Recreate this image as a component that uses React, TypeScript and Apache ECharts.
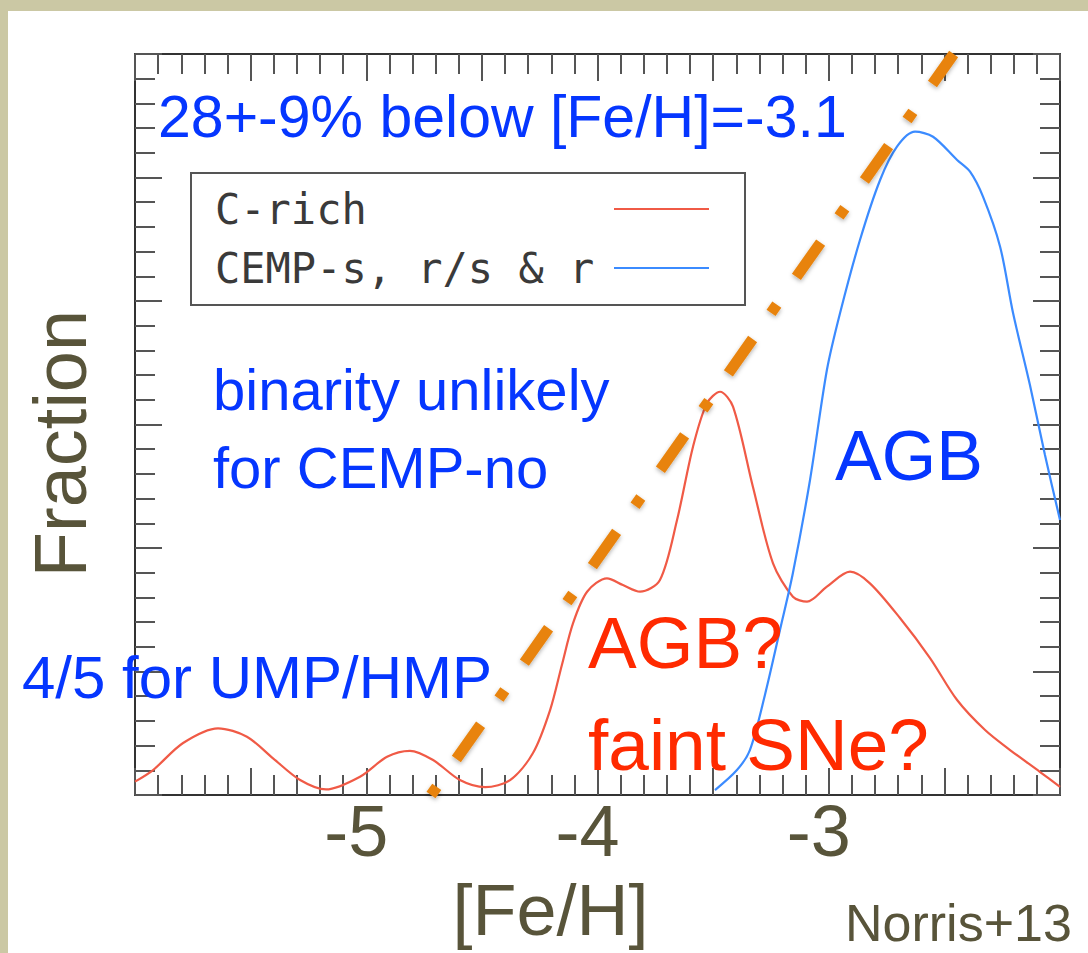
import React, { useEffect, useRef } from "react";
import * as echarts from "echarts";

// ---- data ----
const xTickLabels = [-5, -4, -3];

const cRichX = [
  -6.0, -5.922, -5.792, -5.641, -5.516, -5.403, -5.286, -5.174, -5.027, -4.91,
  -4.811, -4.711, -4.595, -4.486, -4.378, -4.279, -4.205, -4.154, -4.106, -4.045,
  -3.959, -3.89, -3.816, -3.73, -3.656, -3.587, -3.527, -3.47, -3.414, -3.328,
  -3.241, -3.155, -3.094, -3.008, -2.908, -2.822, -2.692, -2.562, -2.445, -2.324,
  -2.216, -2.086, -2.0,
];
const cRichY = [
  0.108, 0.202, 0.421, 0.54, 0.472, 0.297, 0.121, 0.045, 0.148, 0.31,
  0.358, 0.283, 0.121, 0.063, 0.121, 0.34, 0.688, 1.053, 1.39, 1.646,
  1.754, 1.7, 1.646, 1.741, 2.227, 2.82, 3.171, 3.265, 3.144, 2.496,
  1.876, 1.606, 1.565, 1.687, 1.808, 1.714, 1.433, 1.109, 0.769, 0.526,
  0.364, 0.186, 0.065,
];

const cempX = [
  -3.492, -3.397, -3.341, -3.276, -3.211, -3.155, -3.081, -3.008, -2.951, -2.865,
  -2.778, -2.705, -2.627, -2.549, -2.445, -2.389, -2.333, -2.259, -2.203, -2.13,
  -2.065, -2.0,
];
const cempY = [
  0.04, 0.202, 0.364, 0.81, 1.336, 1.798, 2.551, 3.441, 3.903, 4.494,
  4.98, 5.25, 5.371, 5.33, 5.142, 5.047, 4.845, 4.44, 3.903, 3.32,
  2.753, 2.227,
];

const divideX = [-4.72, -2.46];
const divideY = [0, 6];

const seriesNames = ["C-rich", "CEMP-s, r/s & r"];

const OLIVE = "#58543a";
const BLUE = "#0536ff";
const RED = "#ff2a00";
const FONT = "Liberation Sans";

function zip(xs: number[], ys: number[]) {
  return xs.map((x, i) => [x, ys[i]]);
}

function xAxisCfg(position: "top" | "bottom", labels: boolean) {
  return {
    type: "value",
    position,
    min: -6,
    max: -2,
    interval: 0.5,
    splitLine: { show: false },
    minorSplitLine: { show: false },
    axisLine: { show: true, onZero: false, lineStyle: { color: "#333", width: 2 } },
    axisTick: { show: true, inside: true, length: 27, lineStyle: { color: "#555", width: 2 } },
    minorTick: { show: true, splitNumber: 5, length: 20, lineStyle: { color: "#555", width: 2 } },
    axisLabel: labels
      ? {
          show: true,
          margin: 0,
          fontSize: 72,
          fontFamily: FONT,
          color: OLIVE,
          padding: [0, 20, 0, 0],
          formatter: (v: number) => (xTickLabels.includes(v) ? String(v) : ""),
        }
      : { show: false },
    ...(labels
      ? {
          name: "[Fe/H]",
          nameLocation: "middle",
          nameGap: 79,
          nameTextStyle: { fontSize: 72, fontFamily: FONT, color: OLIVE, padding: [0, 94, 0, 0] },
        }
      : {}),
  };
}

function yAxisCfg(position: "left" | "right", named: boolean) {
  return {
    type: "value",
    position,
    min: 0,
    max: 6,
    interval: 1,
    splitLine: { show: false },
    minorSplitLine: { show: false },
    axisLine: { show: true, onZero: false, lineStyle: { color: "#333", width: 2 } },
    axisTick: { show: true, inside: true, length: 27, lineStyle: { color: "#555", width: 2 } },
    minorTick: { show: true, splitNumber: 5, length: 20, lineStyle: { color: "#555", width: 2 } },
    axisLabel: { show: false },
    ...(named
      ? {
          name: "Fraction",
          nameLocation: "middle",
          nameGap: 38,
          nameTextStyle: { fontSize: 74, fontFamily: FONT, color: OLIVE, padding: [0, 38, 0, 0] },
        }
      : {}),
  };
}

function txt(text: string, x: number, baseline: number, size: number, color: string) {
  return {
    type: "text",
    z: 100,
    x,
    y: baseline - 0.3465 * size,
    style: {
      text,
      fill: color,
      fontSize: size,
      fontFamily: FONT,
      align: "left",
      verticalAlign: "middle",
    },
  };
}

export default function App() {
  const ref = useRef<HTMLDivElement>(null);
  useEffect(() => {
    const chart = echarts.init(ref.current!, null, { renderer: "svg" });
    const option: any = {
      animation: false,
      backgroundColor: "#cbc8a4",
      grid: { left: 135, right: 28, top: 54, bottom: 158, show: false },
      xAxis: [xAxisCfg("bottom", true), xAxisCfg("top", false)],
      yAxis: [yAxisCfg("left", true), yAxisCfg("right", false)],
      legend: {
        data: seriesNames,
        orient: "vertical",
        align: "right",
        left: 191,
        top: 173,
        padding: [11, 36, 12, 24],
        itemGap: 9,
        itemWidth: 95,
        itemHeight: 2,
        icon: "rect",
        borderColor: "#555",
        borderWidth: 2,
        backgroundColor: "#ffffff",
        selectedMode: false,
        formatter: (name: string) => `{t|${name}}`,
        textStyle: {
          rich: {
            t: {
              width: 394,
              height: 50,
              lineHeight: 50,
              align: "left",
              fontSize: 42,
              fontFamily: "DejaVu Sans Mono",
              color: "#3a3a3a",
            },
          },
        },
      },
      graphic: [
        {
          type: "rect",
          z: -100,
          silent: true,
          shape: { x: 8, y: 11, width: 1080, height: 942 },
          style: { fill: "#ffffff" },
        },
        txt("28+-9% below [Fe/H]=-3.1", 158, 137, 59, BLUE),
        txt("binarity unlikely", 213, 410, 58, BLUE),
        txt("for CEMP-no", 213, 488, 58, BLUE),
        txt("4/5 for UMP/HMP", 22, 698, 60, BLUE),
        txt("AGB", 835, 480, 70, BLUE),
        txt("AGB?", 588, 668, 73, RED),
        txt("faint SNe?", 588, 770, 73, RED),
        txt("Norris+13", 845, 941, 52, OLIVE),
      ],
      series: [
        {
          name: seriesNames[0],
          type: "line",
          data: zip(cRichX, cRichY),
          smooth: 0.3,
          symbol: "none",
          color: "#f05a46",
          lineStyle: { color: "#f05a46", width: 2.2 },
          z: 3,
        },
        {
          name: seriesNames[1],
          type: "line",
          data: zip(cempX, cempY),
          smooth: 0.3,
          symbol: "none",
          color: "#3b8bff",
          lineStyle: { color: "#3b8bff", width: 2.2 },
          z: 3,
        },
        {
          name: "divide",
          type: "line",
          data: zip(divideX, divideY),
          symbol: "none",
          clip: false,
          z: 5,
          lineStyle: {
            color: "#e8830b",
            width: 11,
            type: [10, 34, 42, 32],
            cap: "butt",
            shadowColor: "rgba(0,0,0,0.3)",
            shadowBlur: 4,
            shadowOffsetY: 2,
          },
        },
      ],
    };
    chart.setOption(option);
    return () => chart.dispose();
  }, []);
  return (
    <div
      ref={ref}
      style={{ position: "absolute", left: 0, top: 0, width: 1088, height: 953 }}
    />
  );
}
